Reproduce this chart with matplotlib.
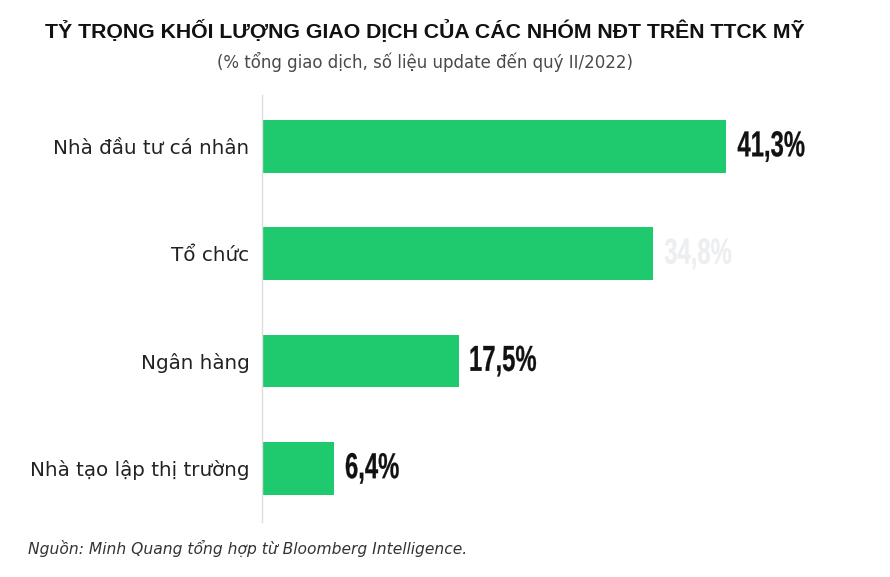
import matplotlib.pyplot as plt
from matplotlib.font_manager import FontProperties
from matplotlib.textpath import TextPath
from matplotlib.patches import PathPatch
from matplotlib.transforms import Affine2D, IdentityTransform

categories = ["Nhà đầu tư cá nhân", "Tổ chức", "Ngân hàng", "Nhà tạo lập thị trường"]
values = [41.3, 34.8, 17.5, 6.4]
value_labels = ["41,3%", "34,8%", "17,5%", "6,4%"]
label_colors = ["#111111", "#eceef0", "#111111", "#111111"]

GREEN = "#1fca6e"

W, H = 890, 577
fig = plt.figure(figsize=(W / 100, H / 100), dpi=100)
ax = fig.add_axes([262 / W, 1 - 522 / H, (W - 262) / W, (522 - 95) / H])

y = list(range(len(categories)))
ax.barh(y, values, height=0.49, color=GREEN)
ax.set_xlim(0, (W - 262) / 11.23)
ax.set_ylim(3.5, -0.48)

for s in ["top", "right", "bottom"]:
    ax.spines[s].set_visible(False)
ax.spines["left"].set_color("#dddddd")
ax.spines["left"].set_linewidth(1.0)
ax.set_xticks([])
ax.set_yticks(y)
ax.set_yticklabels(categories, fontsize=14.3, color="#222222")
ax.tick_params(axis="y", length=0, pad=9)

# nhãn giá trị: chữ đậm, hẹp (co ngang đường viền chữ)
prop = FontProperties(family="Liberation Sans", weight="bold")
k = fig.dpi / 72
for yi, v, lab, c in zip(y, values, value_labels, label_colors):
    tp = TextPath((0, 0), lab, size=26, prop=prop)
    ext = tp.get_extents()
    xd, yd = ax.transData.transform((v, yi))
    tr = Affine2D().translate(-ext.x0, -(ext.y0 + ext.y1) / 2).scale(0.66 * k, k) \
        .translate(xd + 12, yd)
    patch = PathPatch(tr.transform_path(tp), facecolor=c, edgecolor=c, lw=0.2,
                      transform=IdentityTransform())
    fig.add_artist(patch)

fig.text(45 / W, 1 - 30 / H, "TỶ TRỌNG KHỐI LƯỢNG GIAO DỊCH CỦA CÁC NHÓM NĐT TRÊN TTCK MỸ",
         fontsize=15.3, fontweight="bold", family="Liberation Sans", color="#111111",
         ha="left", va="center")
fig.text(425 / W, 1 - 62 / H, "(% tổng giao dịch, số liệu update đến quý II/2022)",
         fontsize=12, color="#4a4a4a", ha="center", va="center")
fig.text(28 / W, 1 - 548 / H, "Nguồn: Minh Quang tổng hợp từ Bloomberg Intelligence.",
         fontsize=11.2, style="italic", color="#333333", ha="left", va="center")

fig.savefig("out.png", dpi=100)
